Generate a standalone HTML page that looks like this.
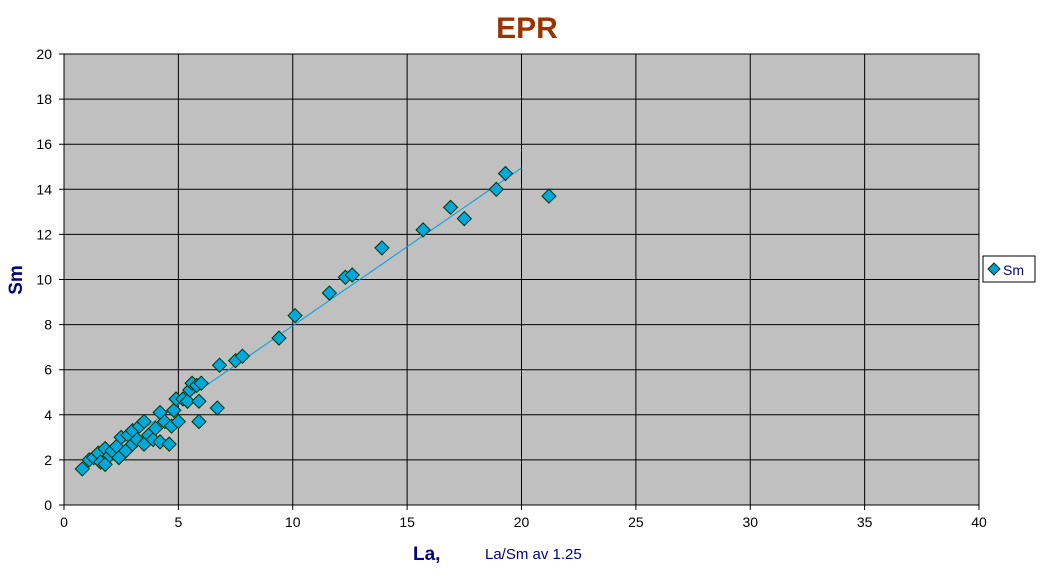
<!DOCTYPE html>
<html><head><meta charset="utf-8"><style>
body{margin:0;background:#fff;font-family:"Liberation Sans",Arial,sans-serif}
svg text{font-family:"Liberation Sans",Arial,sans-serif}
</style></head><body>
<svg id="c" width="1040" height="575">
<text x="527" y="38" text-anchor="middle" font-size="30" font-weight="bold" fill="#993300">EPR</text>
<rect x="64" y="54" width="915" height="451" fill="#c0c0c0" stroke="#808080"/>
<g id="grid"></g><g id="ticks"></g><g id="marks"></g>
<text x="22" y="280" transform="rotate(-90 22 280)" text-anchor="middle" font-size="19" font-weight="bold" fill="#000080">Sm</text>
<text x="413" y="560" font-size="19" font-weight="bold" fill="#000080">La,</text>
<text x="485" y="559" font-size="15" fill="#000080">La/Sm av 1.25</text>
<g>
<rect x="983" y="256" width="52" height="26" fill="#fff" stroke="#000"/>
<path d="M994 263 L1000 269 L994 275 L988 269 Z" fill="#00a0d8" stroke="#003300"/>
<text x="1003" y="275" font-size="14" fill="#000080">Sm</text>
</g>
</svg>
<script>
const xTicks=[0,5,10,15,20,25,30,35,40];
const yTicks=[0,2,4,6,8,10,12,14,16,18,20];
const xs=[0.8,1.1,1.3,1.5,1.6,1.8,1.8,2.0,2.1,2.3,2.4,2.5,2.7,2.8,3.0,3.0,3.2,3.3,3.5,3.5,3.7,3.9,4.0,4.2,4.2,4.4,4.6,4.7,4.8,4.9,5.0,5.2,5.4,5.5,5.6,5.8,5.9,5.9,6.0,6.7,6.8,7.5,7.8,9.4,10.1,11.6,12.3,12.6,13.9,15.7,16.9,17.5,18.9,19.3,21.2];
const ys=[1.6,2.0,2.1,2.3,1.9,1.8,2.5,2.2,2.4,2.6,2.1,3.0,2.4,3.1,2.7,3.3,2.9,3.5,2.7,3.7,3.1,2.9,3.4,2.8,4.1,3.7,2.7,3.5,4.2,4.7,3.7,4.7,4.6,5.1,5.4,5.3,3.7,4.6,5.4,4.3,6.2,6.4,6.6,7.4,8.4,9.4,10.1,10.2,11.4,12.2,13.2,12.7,14.0,14.7,13.7];
const trendX=[0.8,20];
const trendY=[1.51,14.95];
const X=v=>64+v*915/40, Y=v=>505-v*451/20;
const NS="http://www.w3.org/2000/svg";
function mk(t,a,p){const e=document.createElementNS(NS,t);for(const k in a)e.setAttribute(k,a[k]);p.appendChild(e);return e;}
const g=document.getElementById('grid'),tk=document.getElementById('ticks'),m=document.getElementById('marks');
xTicks.forEach(v=>{const l=mk('line',{x1:X(v),x2:X(v),y1:54,y2:510,stroke:'#000'},g);


const t=mk('text',{x:X(v),y:527,'text-anchor':'middle','font-size':14},tk);t.textContent=v;

});
yTicks.forEach(v=>{const l=mk('line',{x1:59,x2:979,y1:Y(v),y2:Y(v),stroke:'#000'},g);


const t=mk('text',{x:52,y:Y(v)+5,'text-anchor':'end','font-size':14},tk);t.textContent=v;

});
const tl=mk('line',{x1:X(trendX[0]),y1:Y(trendY[0]),x2:X(trendX[1]),y2:Y(trendY[1]),stroke:'#00a0e0','stroke-width':1},m);


xs.forEach((v,i)=>{const cx=X(v),cy=Y(ys[i]),r=7;
const p=mk('path',{d:`M${cx} ${cy-r}L${cx+r} ${cy}L${cx} ${cy+r}L${cx-r} ${cy}Z`,fill:'#00a8e0',stroke:'#003300','stroke-width':1},m);

});
</script>
</body></html>
